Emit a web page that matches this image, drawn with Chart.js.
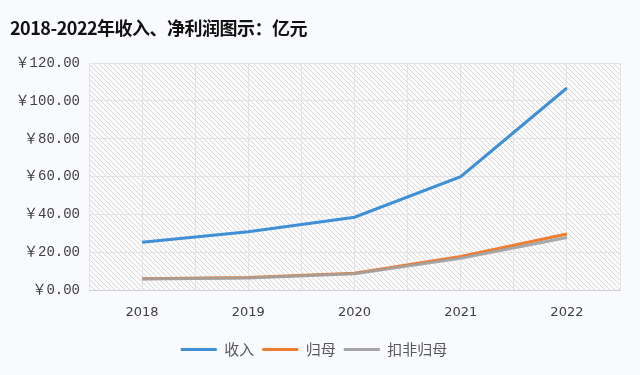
<!DOCTYPE html>
<html>
<head>
<meta charset="utf-8">
<script src="https://cdn.jsdelivr.net/npm/chart.js@4/dist/chart.umd.min.js"></script>
<style>
  html, body { margin: 0; padding: 0; background: #f9fafd; }
  #wrap { position: relative; width: 640px; height: 375px; }
  #title {
    position: absolute; left: 10px; top: 14px;
    font: bold 18px 'Noto Sans CJK SC', sans-serif; color: #111;
    letter-spacing: -0.5px;
  }
</style>
</head>
<body>
<div id="wrap">
  <div id="title">2018-2022年收入、净利润图示：亿元</div>
  <canvas id="chart" width="640" height="375"></canvas>
</div>
<script>
const years = ['2018', '2019', '2020', '2021', '2022'];
const revenue = [25.4, 31.0, 38.6, 60.0, 106.8];
const netProfit = [6.1, 6.8, 9.1, 17.9, 29.8];
const deductedProfit = [6.0, 6.5, 8.8, 17.0, 27.9];

function makeHatch() {
  const c = document.createElement('canvas');
  c.width = 5;
  c.height = 5;
  const g = c.getContext('2d');
  g.fillStyle = '#fbfbfc';
  g.fillRect(0, 0, 5, 5);
  g.strokeStyle = '#d9d9d9';
  g.lineWidth = 1;
  g.beginPath();
  g.moveTo(-1, -1);
  g.lineTo(6, 6);
  g.moveTo(-1, 4);
  g.lineTo(1, 6);
  g.moveTo(4, -1);
  g.lineTo(6, 1);
  g.stroke();
  return g.createPattern(c, 'repeat');
}

const hatchBackground = {
  id: 'hatchBackground',
  beforeDraw(chart) {
    const a = chart.chartArea;
    const ctx = chart.ctx;
    ctx.save();
    ctx.fillStyle = makeHatch();
    ctx.fillRect(a.left, a.top, a.right - a.left, a.bottom - a.top);
    ctx.restore();
  },
};

const ctx = document.getElementById('chart').getContext('2d');

new Chart(ctx, {
  type: 'line',
  data: {
    labels: years,
    datasets: [
      {
        label: '收入',
        data: revenue,
        borderColor: '#3f8fd6',
        backgroundColor: '#3f8fd6',
        borderWidth: 3,
        pointRadius: 0,
        tension: 0,
        order: 3,
      },
      {
        label: '归母',
        data: netProfit,
        borderColor: '#ed7d31',
        backgroundColor: '#ed7d31',
        borderWidth: 3,
        pointRadius: 0,
        order: 2,
      },
      {
        label: '扣非归母',
        data: deductedProfit,
        borderColor: 'rgba(160, 160, 160, 0.9)',
        backgroundColor: '#a5a5a5',
        borderWidth: 3,
        pointRadius: 0,
        order: 1,
      },
    ],
  },
  options: {
    responsive: false,
    animation: false,
    layout: {
      padding: { left: 8, right: 20, top: 63, bottom: 8 },
    },
    plugins: {
      legend: {
        position: 'bottom',
        labels: {
          boxWidth: 36,
          boxHeight: 3,
          padding: 8,
          color: '#595959',
          font: { family: "'Noto Sans CJK SC', sans-serif", size: 15 },
          generateLabels(chart) {
            return chart.data.datasets.map((ds, i) => ({
              text: ds.label,
              fillStyle: ds.backgroundColor,
              strokeStyle: ds.backgroundColor,
              lineWidth: 0,
              fontColor: '#595959',
              datasetIndex: i,
            }));
          },
        },
      },
      tooltip: { enabled: false },
    },
    scales: {
      x: {
        offset: true,
        grid: {
          offset: false,
          color: '#e3e3e6',
          drawTicks: false,
        },
        border: { color: '#d0d0d4' },
        ticks: {
          padding: 14,
          color: '#404040',
          font: { family: "'DejaVu Sans', sans-serif", size: 13 },
        },
      },
      x2: {
        type: 'linear',
        position: 'bottom',
        min: 0,
        max: 5,
        display: true,
        ticks: { display: false, stepSize: 1 },
        grid: { color: '#e3e3e6', drawTicks: false },
        border: { display: false },
      },
      y: {
        min: 0,
        max: 120,
        afterFit(scale) {
          scale.width = 81;
        },
        grid: {
          color: '#e3e3e6',
          drawTicks: false,
        },
        border: { display: false },
        ticks: {
          stepSize: 20,
          padding: 9,
          color: '#404040',
          font: { family: "'Liberation Mono', 'Noto Sans CJK SC', monospace", size: 14 },
          callback(value) {
            return '￥' + value.toFixed(2);
          },
        },
      },
    },
  },
  plugins: [hatchBackground],
});
</script>
</body>
</html>
